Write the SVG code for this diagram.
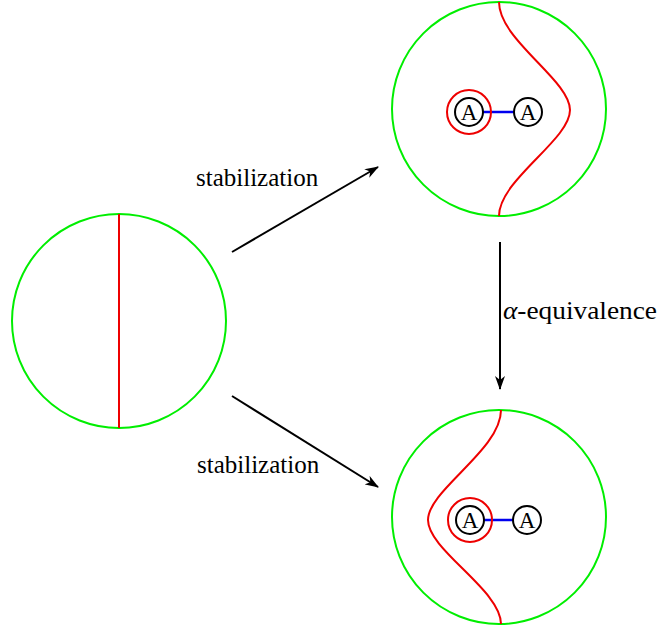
<svg xmlns="http://www.w3.org/2000/svg" width="659" height="632" viewBox="0 0 659 632">
<defs>
<style>
.disk{fill:none;stroke:#00ee00;stroke-width:2}
.cut{fill:none;stroke:#ee0000;stroke-width:2}
.node{fill:#fff;stroke:#000;stroke-width:2}
.ring{fill:none;stroke:#ee0000;stroke-width:2}
.bond{stroke:#0000ee;stroke-width:2.5}
.lbl{font-family:"Liberation Serif","Times New Roman",serif;font-size:25px;fill:#000}
.al{font-family:"Liberation Serif","Times New Roman",serif;font-size:23px;fill:#000;text-anchor:middle}
.arr{stroke:#000;stroke-width:2;fill:none;marker-end:url(#ah)}
</style>
<marker id="ah" viewBox="0 0 14 10" refX="13" refY="5" markerWidth="14" markerHeight="10" markerUnits="userSpaceOnUse" orient="auto">
<path d="M0,0 L14,5 L0,10 L4,5 Z" fill="#000"/>
</marker>
</defs>
<g id="left">
<circle class="disk" cx="119" cy="321" r="107"/>
<line class="cut" x1="119" y1="214" x2="119" y2="428"/>
</g>
<g id="topright">
<circle class="disk" cx="499" cy="109" r="107"/>
<path class="cut" d="M499 2 C499 40 570 80 570 110 C570 140 499 180 499 216"/>
<line class="bond" x1="483" y1="112" x2="514" y2="112"/>
<circle class="ring" cx="469" cy="112" r="22"/>
<circle class="node" cx="469" cy="112" r="14"/>
<text class="al" x="469" y="120">A</text>
<circle class="node" cx="528" cy="112" r="14"/>
<text class="al" x="528" y="120">A</text>
</g>
<g id="bottomright">
<circle class="disk" cx="499" cy="517" r="107"/>
<path class="cut" d="M501 410 C501 450 428 490 428 520 C428 550 501 590 501 624"/>
<line class="bond" x1="484" y1="520" x2="514" y2="520"/>
<circle class="ring" cx="470" cy="520" r="22"/>
<circle class="node" cx="470" cy="520" r="14"/>
<text class="al" x="470" y="528">A</text>
<circle class="node" cx="527" cy="520" r="14"/>
<text class="al" x="527" y="528">A</text>
</g>
<g id="connectors">
<line class="arr" x1="232" y1="252" x2="378" y2="167"/>
<line class="arr" x1="232" y1="396" x2="378" y2="487"/>
<line class="arr" x1="500" y1="242" x2="500" y2="389"/>
</g>
<g id="labels">
<text class="lbl" x="196" y="186">stabilization</text>
<text class="lbl" x="197" y="473">stabilization</text>
<text class="lbl" x="503" y="319" textLength="154" lengthAdjust="spacingAndGlyphs"><tspan font-style="italic">α</tspan>-equivalence</text>
</g>
</svg>
